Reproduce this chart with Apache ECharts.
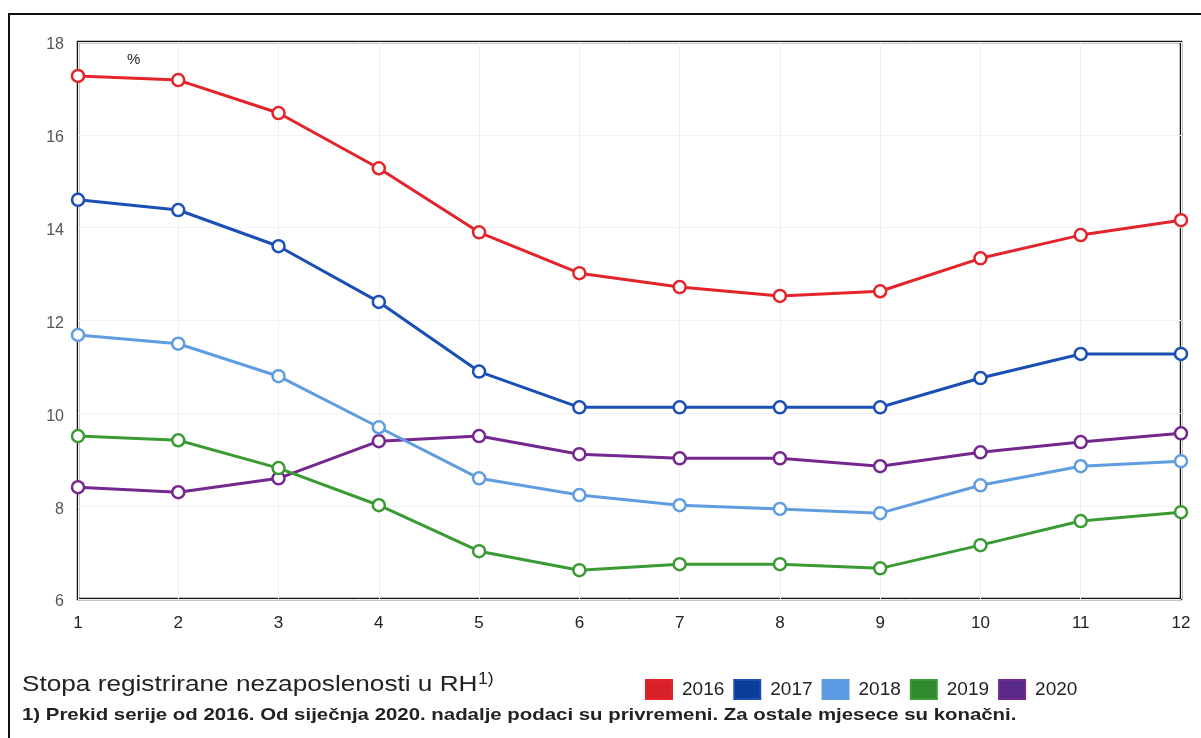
<!DOCTYPE html>
<html><head><meta charset="utf-8">
<script src="https://cdn.jsdelivr.net/npm/echarts@6/dist/echarts.min.js"></script>
<style>html,body{margin:0;padding:0;background:#fff}#c{width:1201px;height:738px}</style>
</head><body><div id="c"></div>
<script>
const months = [1,2,3,4,5,6,7,8,9,10,11,12];
const yTicks = [6,8,10,12,14,16,18];
const s2016 = [17.27,17.18,16.47,15.28,13.9,13.02,12.72,12.53,12.63,13.34,13.84,14.16];
const s2017 = [14.6,14.38,13.6,12.4,10.9,10.13,10.13,10.13,10.13,10.76,11.28,11.28];
const s2018 = [11.69,11.5,10.8,9.7,8.6,8.24,8.02,7.94,7.85,8.45,8.86,8.97];
const s2019 = [9.51,9.42,8.82,8.02,7.03,6.62,6.75,6.75,6.66,7.16,7.68,7.87];
const s2020 = [8.41,8.3,8.6,9.4,9.51,9.12,9.03,9.03,8.86,9.16,9.38,9.57];
const names = ['2016','2017','2018','2019','2020'];
const colors = ['#e3242b','#1a4fb5','#5f9de0','#3a9b35','#74278f'];
const legendColors = ['#d8202a','#0b3d99','#5a9ae2','#2f8a2f','#5a2a8a'];
const all = [s2016,s2017,s2018,s2019,s2020];

const chart = echarts.init(document.getElementById('c'));
chart.setOption({
  animation:false,
  backgroundColor:'#fff',
  grid:{left:78,right:20,top:42,bottom:139,show:true,borderColor:'#111',borderWidth:2.5},
  xAxis:{type:'value',min:1,max:12,interval:1,
    axisLine:{show:false},axisTick:{show:false},
    splitLine:{show:true,lineStyle:{color:'#f0f0f0',width:1}},
    axisLabel:{color:'#222',fontSize:17,fontFamily:'Liberation Sans, Arial',margin:16}},
  yAxis:{type:'value',min:6,max:18,interval:2,
    axisLine:{show:false},axisTick:{show:false},
    splitLine:{show:true,lineStyle:{color:'#f3f3f3',width:1}},
    axisLabel:{color:'#555',fontSize:16,fontFamily:'Liberation Sans, Arial',margin:14,lineHeight:24,verticalAlign:'top',padding:[-9,0,0,0]}},
  legend:{left:640,top:674,itemWidth:26,itemHeight:19,itemGap:9,icon:'rect',
    data:names.map((n,i)=>({name:n,itemStyle:{color:legendColors[i]}})),
    textStyle:{fontSize:19,color:'#222',fontFamily:'Liberation Sans, Arial',padding:[0,0,0,5]}},
  series: names.map((n,i)=>({
    name:n,type:'line',
    data:months.map((m,j)=>[m,all[i][j]]),
    symbol:'circle',symbolSize:12,
    lineStyle:{color:colors[i],width:3},
    itemStyle:{color:'#fff',borderColor:colors[i],borderWidth:2.5},
    z:5-i
  })),
  graphic:[
    {type:'rect',shape:{x:9,y:14,width:1200,height:730},style:{fill:'none',stroke:'#111',lineWidth:2}},
    {type:'text',left:127,top:52,style:{text:'%',fontSize:15,fill:'#222',fontFamily:'Liberation Sans, Arial'}},
    {type:'text',x:22,y:674,scaleX:1.19,style:{x:0,y:0,textVerticalAlign:'top',text:'Stopa registrirane nezaposlenosti u RH',fontSize:22,fill:'#222',fontFamily:'Liberation Sans, Arial'}},
    {type:'text',x:478,y:672,scaleX:1.1,style:{x:0,y:0,textVerticalAlign:'top',text:'1)',fontSize:16,fill:'#222',fontFamily:'Liberation Sans, Arial'}},
    {type:'text',x:22,y:707,scaleX:1.2,style:{x:0,y:0,textVerticalAlign:'top',text:'1) Prekid serije od 2016. Od siječnja 2020. nadalje podaci su privremeni. Za ostale mjesece su konačni.',fontSize:17,fontWeight:'bold',fill:'#222',fontFamily:'Liberation Sans, Arial'}}
  ]
});
</script></body></html>
